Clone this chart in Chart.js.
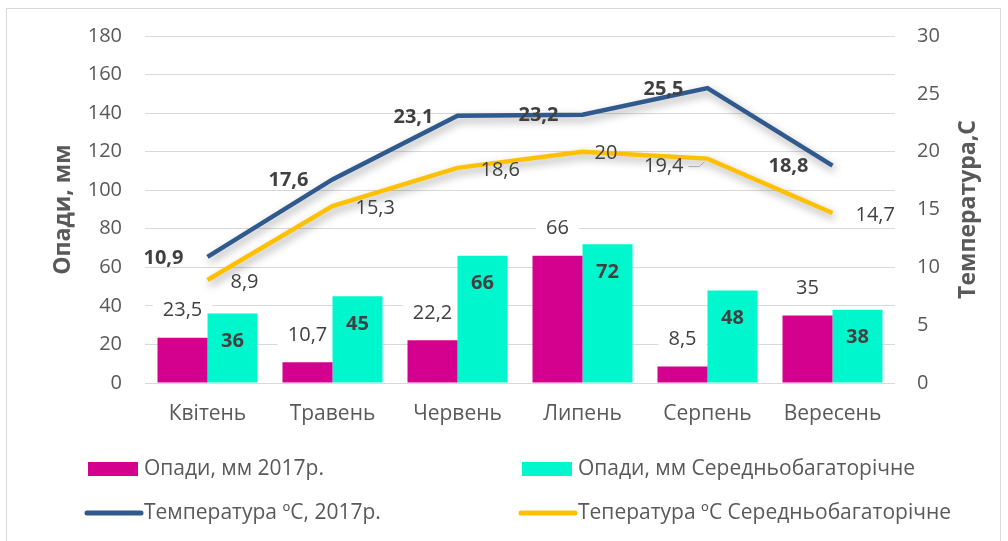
<!DOCTYPE html>
<html>
<head>
<meta charset="utf-8">
<script src="https://cdn.jsdelivr.net/npm/chart.js@4"></script>
<style>
    body { margin: 0; background: #fff; }
    #wrap { position: relative; width: 1008px; height: 541px; }
</style>
</head>
<body>
<div id="wrap"><canvas id="rainChart"></canvas></div>
<script>
const months = ['Квітень', 'Травень', 'Червень', 'Липень', 'Серпень', 'Вересень'];
const rain2017 = [23.5, 10.7, 22.2, 66, 8.5, 35];
const rainAvg = [36, 45, 66, 72, 48, 38];
const temp2017 = [10.9, 17.6, 23.1, 23.2, 25.5, 18.8];
const tempAvg = [8.9, 15.3, 18.6, 20, 19.4, 14.7];
const rainAxis = { min: 0, max: 180, step: 20 };
const tempAxis = { min: 0, max: 30, step: 5 };

// which side of the point the yellow labels sit on (19,4 is on the left in the original)
const tempAvgLabelSide = ['right', 'right', 'right', 'right', 'left', 'right'];

const FONT = "'Open Sans', 'Noto Sans', sans-serif";
const GREY = '#595959';
const DARK = '#404040';

Chart.defaults.font.family = FONT;
Chart.defaults.color = GREY;

const fmt = v => String(v).replace('.', ',');

// soft shadow under the lines
const lineShadow = {
    id: 'lineShadow',
    beforeDatasetDraw(chart, args) {
        if (args.meta.type !== 'line') return;
        const ctx = chart.ctx;
        ctx.save();
        ctx.shadowColor = 'rgba(0,0,0,0.35)';
        ctx.shadowBlur = 9;
        ctx.shadowOffsetX = 2;
        ctx.shadowOffsetY = 4;
    },
    afterDatasetDraw(chart, args) {
        if (args.meta.type !== 'line') return;
        chart.ctx.restore();
    }
};

const valueLabels = {
    id: 'valueLabels',
    // white boxes behind the outside bar labels: they only cut the gridlines
    beforeDatasetsDraw(chart) {
        const ctx = chart.ctx;
        ctx.save();
        ctx.font = '20px ' + FONT;
        ctx.fillStyle = '#fff';
        chart.data.datasets.forEach((ds, i) => {
            if (ds.labelMode !== 'barOut') return;
            chart.getDatasetMeta(i).data.forEach((el, j) => {
                const w = ctx.measureText(fmt(ds.data[j])).width;
                ctx.fillRect(el.x - w / 2 - 10, el.y - 42, w + 20, 30);
            });
        });
        ctx.restore();
    },
    afterDatasetsDraw(chart) {
        const ctx = chart.ctx;
        ctx.save();
        chart.data.datasets.forEach((ds, i) => {
            const meta = chart.getDatasetMeta(i);
            meta.data.forEach((el, j) => {
                const txt = fmt(ds.data[j]);
                const mode = ds.labelMode;
                if (mode === 'barOut') {
                    ctx.font = '20px ' + FONT;
                    ctx.fillStyle = DARK;
                    ctx.textAlign = 'center';
                    ctx.textBaseline = 'middle';
                    ctx.fillText(txt, el.x, el.y - 27);
                } else if (mode === 'barIn') {
                    ctx.font = 'bold 20px ' + FONT;
                    ctx.fillStyle = DARK;
                    ctx.textAlign = 'center';
                    ctx.textBaseline = 'middle';
                    ctx.fillText(txt, el.x, el.y + 28);
                } else if (mode === 'lineLeft') {
                    ctx.font = 'bold 20px ' + FONT;
                    ctx.fillStyle = DARK;
                    ctx.textAlign = 'right';
                    ctx.textBaseline = 'middle';
                    ctx.fillText(txt, el.x - 24, el.y + 1);
                } else if (mode === 'lineSide') {
                    ctx.font = '20px ' + FONT;
                    ctx.fillStyle = DARK;
                    ctx.textBaseline = 'middle';
                    if (tempAvgLabelSide[j] === 'left') {
                        ctx.textAlign = 'right';
                        ctx.fillText(txt, el.x - 24, el.y + 8);
                        ctx.strokeStyle = '#a6a6a6';
                        ctx.lineWidth = 1;
                        ctx.beginPath();
                        ctx.moveTo(el.x - 19, el.y + 8);
                        ctx.lineTo(el.x - 8, el.y + 8);
                        ctx.lineTo(el.x - 3, el.y + 3);
                        ctx.stroke();
                    } else {
                        ctx.textAlign = 'left';
                        ctx.fillText(txt, el.x + (j === 3 ? 12 : 23), el.y + 2);
                    }
                }
            });
        });
        ctx.restore();
    }
};

// frame, axis titles and the two-column legend
const decorations = {
    id: 'decorations',
    beforeDraw(chart) {
        const ctx = chart.ctx;
        ctx.save();
        ctx.strokeStyle = '#d9d9d9';
        ctx.lineWidth = 1;
        ctx.strokeRect(6.5, 8.5, 994, 545);
        ctx.restore();
    },
    afterDraw(chart) {
        const ctx = chart.ctx;
        const area = chart.chartArea;
        const midY = (area.top + area.bottom) / 2;
        ctx.save();
        ctx.fillStyle = GREY;
        ctx.font = 'bold 23px ' + FONT;
        ctx.textAlign = 'center';
        ctx.textBaseline = 'middle';

        ctx.save();
        ctx.translate(63, midY);
        ctx.rotate(-Math.PI / 2);
        ctx.fillText('Опади, мм', 0, 0);
        ctx.restore();

        ctx.save();
        ctx.translate(968, midY);
        ctx.rotate(-Math.PI / 2);
        ctx.fillText('Температура,С', 0, 0);
        ctx.restore();

        const ds = chart.data.datasets;
        const items = [
            { d: ds[2], x: 88, y: 469 },
            { d: ds[3], x: 522, y: 469 },
            { d: ds[0], x: 88, y: 513 },
            { d: ds[1], x: 522, y: 513 }
        ];
        ctx.font = '21px ' + FONT;
        ctx.textAlign = 'left';
        items.forEach(it => {
            if (it.d.type === 'bar') {
                ctx.fillStyle = it.d.backgroundColor;
                ctx.fillRect(it.x, it.y - 7, 50, 14);
            } else {
                ctx.strokeStyle = it.d.borderColor;
                ctx.lineWidth = 5;
                ctx.lineCap = 'round';
                ctx.beginPath();
                ctx.moveTo(it.x - 1, it.y);
                ctx.lineTo(it.x + 53, it.y);
                ctx.stroke();
            }
            ctx.fillStyle = GREY;
            ctx.fillText(it.d.label, it.x + 56, it.y);
        });
        ctx.restore();
    }
};

const ctx = document.getElementById('rainChart').getContext('2d');
new Chart(ctx, {
    data: {
        labels: months,
        datasets: [
            {
                type: 'line',
                label: 'Температура ºC, 2017р.',
                data: temp2017,
                yAxisID: 'y1',
                borderColor: '#305A8E',
                borderWidth: 4.5,
                pointRadius: 0,
                tension: 0,
                order: 0,
                labelMode: 'lineLeft'
            },
            {
                type: 'line',
                label: 'Теператyра ºC Середньобагаторічне',
                data: tempAvg,
                yAxisID: 'y1',
                borderColor: '#FFC000',
                borderWidth: 4.5,
                pointRadius: 0,
                tension: 0,
                order: 0,
                labelMode: 'lineSide'
            },
            {
                type: 'bar',
                label: 'Опади, мм 2017р.',
                data: rain2017,
                yAxisID: 'y',
                backgroundColor: '#D4008E',
                categoryPercentage: 0.8,
                barPercentage: 1.0,
                order: 1,
                labelMode: 'barOut'
            },
            {
                type: 'bar',
                label: 'Опади, мм Середньобагаторічне',
                data: rainAvg,
                yAxisID: 'y',
                backgroundColor: '#00F7CE',
                categoryPercentage: 0.8,
                barPercentage: 1.0,
                order: 1,
                labelMode: 'barIn'
            }
        ]
    },
    options: {
        responsive: true,
        maintainAspectRatio: false,
        animation: false,
        layout: { padding: { top: 36, left: 0, right: 0, bottom: 0 } },
        scales: {
            x: {
                grid: { display: false, drawTicks: false },
                border: { display: false },
                ticks: { font: { size: 21 }, color: GREY, padding: 18 },
                afterFit: s => { s.height = 158; }
            },
            y: {
                position: 'left',
                min: rainAxis.min,
                max: rainAxis.max,
                ticks: { stepSize: rainAxis.step, font: { size: 20 }, color: GREY, padding: 23 },
                grid: { color: '#d9d9d9', drawTicks: false },
                border: { display: false },
                afterFit: s => { s.width = 145; }
            },
            y1: {
                position: 'right',
                min: tempAxis.min,
                max: tempAxis.max,
                ticks: { stepSize: tempAxis.step, font: { size: 20 }, color: GREY, padding: 22 },
                grid: { display: false, drawTicks: false },
                border: { display: false },
                afterFit: s => { s.width = 113; }
            }
        },
        plugins: {
            legend: { display: false },
            tooltip: { enabled: false }
        }
    },
    plugins: [lineShadow, valueLabels, decorations]
});
</script>
</body>
</html>
